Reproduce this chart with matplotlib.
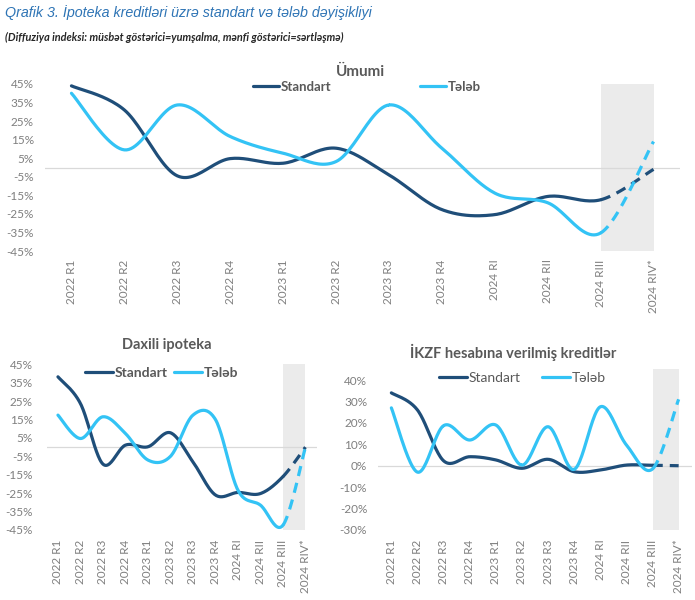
import numpy as np
import matplotlib.pyplot as plt

plt.rcParams['font.family'] = ['Lato', 'DejaVu Sans']

quarters = ["2022 R1", "2022 R2", "2022 R3", "2022 R4", "2023 R1", "2023 R2",
            "2023 R3", "2023 R4", "2024 RI", "2024 RII", "2024 RIII", "2024 RIV*"]

# Ümumi
umumi_standart = [44, 31, -4.5, 4.8, 2.3, 10.4, -4, -22.7, -25.4, -15.6, -17.4, -1]
umumi_teleb = [40, 9.5, 33.7, 16.7, 7.7, 3.2, 33.7, 10.4, -13.8, -19, -35.3, 14]

# Daxili ipoteka
daxili_standart = [38.2, 23.7, -9.2, 1.1, 0.2, 7.8, -8, -26, -24.6, -25.2, -16, 0]
daxili_teleb = [17.4, 4.7, 16.5, 7.4, -7, -5, 17.4, 15, -23.4, -31.5, -42.4, 0]

# İKZF hesabına verilmiş kreditlər
ikzf_standart = [34, 26, 2.3, 4.2, 2.7, -1.2, 3, -2.8, -2, 0.3, 0.2, 0]
ikzf_teleb = [27, -3, 18.7, 12, 19, 0.3, 18.2, -1.7, 27.5, 9.7, -1.5, 31]

NAVY = "#1F4E79"
CYAN = "#33C3F5"
GREY = "#7F7F7F"


def smooth(y, n=25):
    # catmull-rom segments through the points, like excel "smoothed line"
    pts = np.column_stack([np.arange(len(y)), y]).astype(float)
    p = np.vstack([pts[0], pts, pts[-1]])
    t = np.linspace(0, 1, n)[:, None]
    segs = []
    for i in range(len(y) - 1):
        p0, p1, p2, p3 = p[i], p[i + 1], p[i + 2], p[i + 3]
        c = 0.5 * (2 * p1 + (-p0 + p2) * t + (2 * p0 - 5 * p1 + 4 * p2 - p3) * t ** 2
                   + (-p0 + 3 * p1 - 3 * p2 + p3) * t ** 3)
        segs.append(c)
    return segs


def draw(ax, y, color, label):
    segs = smooth(y)
    solid = np.vstack(segs[:-1])
    ax.plot(solid[:, 0], solid[:, 1], color=color, lw=2.3, label=label,
            solid_capstyle="round")
    ax.plot(segs[-1][:, 0], segs[-1][:, 1], color=color, lw=2.3,
            dashes=(3.2, 2.2))


def setup(ax, ylo, yhi, ticks, xpad, ypad, fs=8.5):
    ax.set_xlim(-0.5, len(quarters) - 0.5)
    ax.set_ylim(ylo, yhi)
    ax.axvspan(len(quarters) - 2, len(quarters) - 1, color="#EBEBEB", lw=0, zorder=0)
    ax.axhline(0, color="#D9D9D9", lw=0.9, zorder=1)
    ax.set_yticks(ticks)
    ax.set_yticklabels([f"{v}%" for v in ticks])
    ax.set_xticks(range(len(quarters)))
    ax.set_xticklabels(quarters, rotation=90)
    for s in ax.spines.values():
        s.set_visible(False)
    ax.tick_params(axis="both", length=0, colors=GREY, labelsize=fs)
    ax.tick_params(axis="x", pad=xpad)
    ax.tick_params(axis="y", pad=ypad)


fig = plt.figure(figsize=(6.95, 6.0), dpi=100)

fig.text(0.007, 1 - 13 / 600, "Qrafik 3. İpoteka kreditləri üzrə standart və tələb dəyişikliyi",
         family=["Liberation Sans", "DejaVu Sans"], style="italic", color="#2E74B5",
         fontsize=10.3, va="center")
fig.text(0.007, 1 - 37 / 600,
         "(Diffuziya indeksi: müsbət göstərici=yumşalma, mənfi göstərici=sərtləşmə)",
         style="italic", weight="bold", color="#262626", fontsize=7.8, va="center")

# top chart
ax1 = fig.add_axes([45 / 695, 1 - 251 / 600, 635 / 695, 167 / 600])
setup(ax1, -45, 45, list(range(-45, 46, 10)), 6, 8)
draw(ax1, umumi_standart, NAVY, "Standart")
draw(ax1, umumi_teleb, CYAN, "Tələb")
fig.text(360 / 695, 1 - 72 / 600, "Ümumi", ha="center", va="center",
         weight="bold", color="#595959", fontsize=11)
leg = ax1.legend(loc="upper left", bbox_to_anchor=(253 / 695, 1 - 81 / 600),
                 bbox_transform=fig.transFigure, ncol=2, frameon=False,
                 handlelength=2.0, handletextpad=0.1, columnspacing=6.7,
                 borderpad=0, borderaxespad=0, prop={"weight": "bold", "size": 9.5})
for t in leg.get_texts():
    t.set_color("#595959")

# bottom left
ax2 = fig.add_axes([46.7 / 695, 1 - 530 / 600, 270 / 695, 165.7 / 600])
setup(ax2, -45, 45, list(range(-45, 46, 10)), 7, 10, fs=8.5)
draw(ax2, daxili_standart, NAVY, "Standart")
draw(ax2, daxili_teleb, CYAN, "Tələb")
fig.text(167 / 695, 1 - 345 / 600, "Daxili ipoteka", ha="center", va="center",
         weight="bold", color="#595959", fontsize=10.5)
leg = ax2.legend(loc="upper left", bbox_to_anchor=(85 / 695, 1 - 367 / 600),
                 bbox_transform=fig.transFigure, ncol=2, frameon=False,
                 handlelength=2.0, handletextpad=0.1, columnspacing=0.5,
                 borderpad=0, borderaxespad=0, prop={"weight": "bold", "size": 10})
for t in leg.get_texts():
    t.set_color("#595959")

# bottom right
ax3 = fig.add_axes([378.3 / 695, 1 - 530 / 600, 313.4 / 695, 160.7 / 600])
setup(ax3, -30, 45, list(range(-30, 41, 10)), 7, 8, fs=8.5)
draw(ax3, ikzf_standart, NAVY, "Standart")
draw(ax3, ikzf_teleb, CYAN, "Tələb")
fig.text(513 / 695, 1 - 352 / 600, "İKZF hesabına verilmiş kreditlər", ha="center",
         va="center", weight="bold", color="#595959", fontsize=10.5)
leg = ax3.legend(loc="upper left", bbox_to_anchor=(439 / 695, 1 - 372 / 600),
                 bbox_transform=fig.transFigure, ncol=2, frameon=False,
                 handlelength=2.0, handletextpad=0.1, columnspacing=1.6,
                 borderpad=0, borderaxespad=0, prop={"size": 10})
for t in leg.get_texts():
    t.set_color("#595959")

fig.savefig("out.png", dpi=100)
